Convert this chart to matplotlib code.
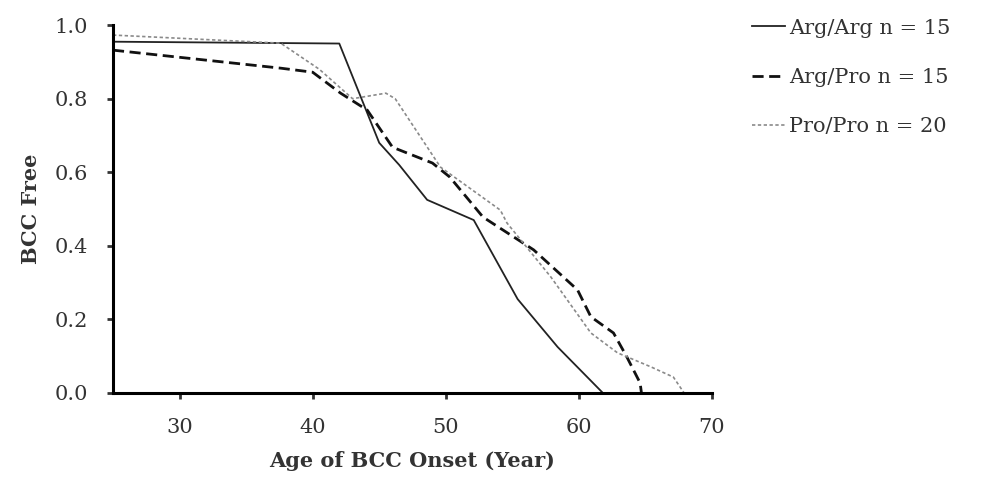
import matplotlib
matplotlib.use("Agg")
import matplotlib.pyplot as plt

# Kaplan-Meier style curves
arg_arg_age = [25, 42, 45, 46.5, 48.6, 52.1, 55.4, 58.4, 61.8]
arg_arg_free = [0.955, 0.950, 0.68, 0.62, 0.525, 0.47, 0.255, 0.125, 0.0]

arg_pro_age = [25, 37.6, 40, 42.1, 44.1, 46, 49, 50.3, 52.8, 56.6, 59.9, 60.9, 62.6, 63.6, 64.6, 64.7]
arg_pro_free = [0.932, 0.883, 0.872, 0.815, 0.769, 0.668, 0.625, 0.587, 0.478, 0.389, 0.28, 0.207, 0.163, 0.098, 0.027, 0.0]

pro_pro_age = [25, 37.6, 40.5, 43, 45.5, 46.2, 49.6, 54.1, 54.6, 57.9, 60.9, 62.9, 65.4, 67.1, 67.9]
pro_pro_free = [0.973, 0.951, 0.88, 0.80, 0.815, 0.80, 0.614, 0.497, 0.462, 0.315, 0.163, 0.109, 0.071, 0.043, 0.0]

labels = ["Arg/Arg n = 15", "Arg/Pro n = 15", "Pro/Pro n = 20"]
x_ticks = [30, 40, 50, 60, 70]
y_ticks = [0.0, 0.2, 0.4, 0.6, 0.8, 1.0]

plt.rcParams["font.family"] = ["DejaVu Serif"]

fig = plt.figure(figsize=(10, 4.93), dpi=100)
ax = fig.add_axes([0.113, 0.203, 0.599, 0.746])

ax.plot(arg_arg_age, arg_arg_free, color="#222222", linewidth=1.3, linestyle="-", label=labels[0])
ax.plot(arg_pro_age, arg_pro_free, color="#111111", linewidth=2.0, linestyle=(0, (4, 2)), label=labels[1])
ax.plot(pro_pro_age, pro_pro_free, color="#8a8a8a", linewidth=1.2, linestyle=(0, (2, 1.5)), label=labels[2])

ax.set_xlim(25, 70)
ax.set_ylim(0, 1.0)
ax.set_xticks(x_ticks)
ax.set_yticks(y_ticks)
ax.set_yticklabels([f"{v:.1f}" for v in y_ticks])
ax.tick_params(axis="both", labelsize=15, length=4, width=2, colors="#333333")
ax.tick_params(axis="x", pad=14)
ax.tick_params(axis="y", pad=14)
ax.spines["top"].set_visible(False)
ax.spines["right"].set_visible(False)
ax.spines["left"].set_linewidth(2.2)
ax.spines["bottom"].set_linewidth(2.2)

ax.set_xlabel("Age of BCC Onset (Year)", fontsize=15, fontweight="bold", color="#333333", labelpad=10)
ax.set_ylabel("BCC Free", fontsize=15, fontweight="bold", color="#333333", labelpad=10)

fig.legend(loc="upper left", bbox_to_anchor=(0.733, 1.0), frameon=False,
           fontsize=15, handlelength=1.6, handletextpad=0.2, labelspacing=1.45,
           labelcolor="#333333")

fig.savefig("out.png", dpi=100)
